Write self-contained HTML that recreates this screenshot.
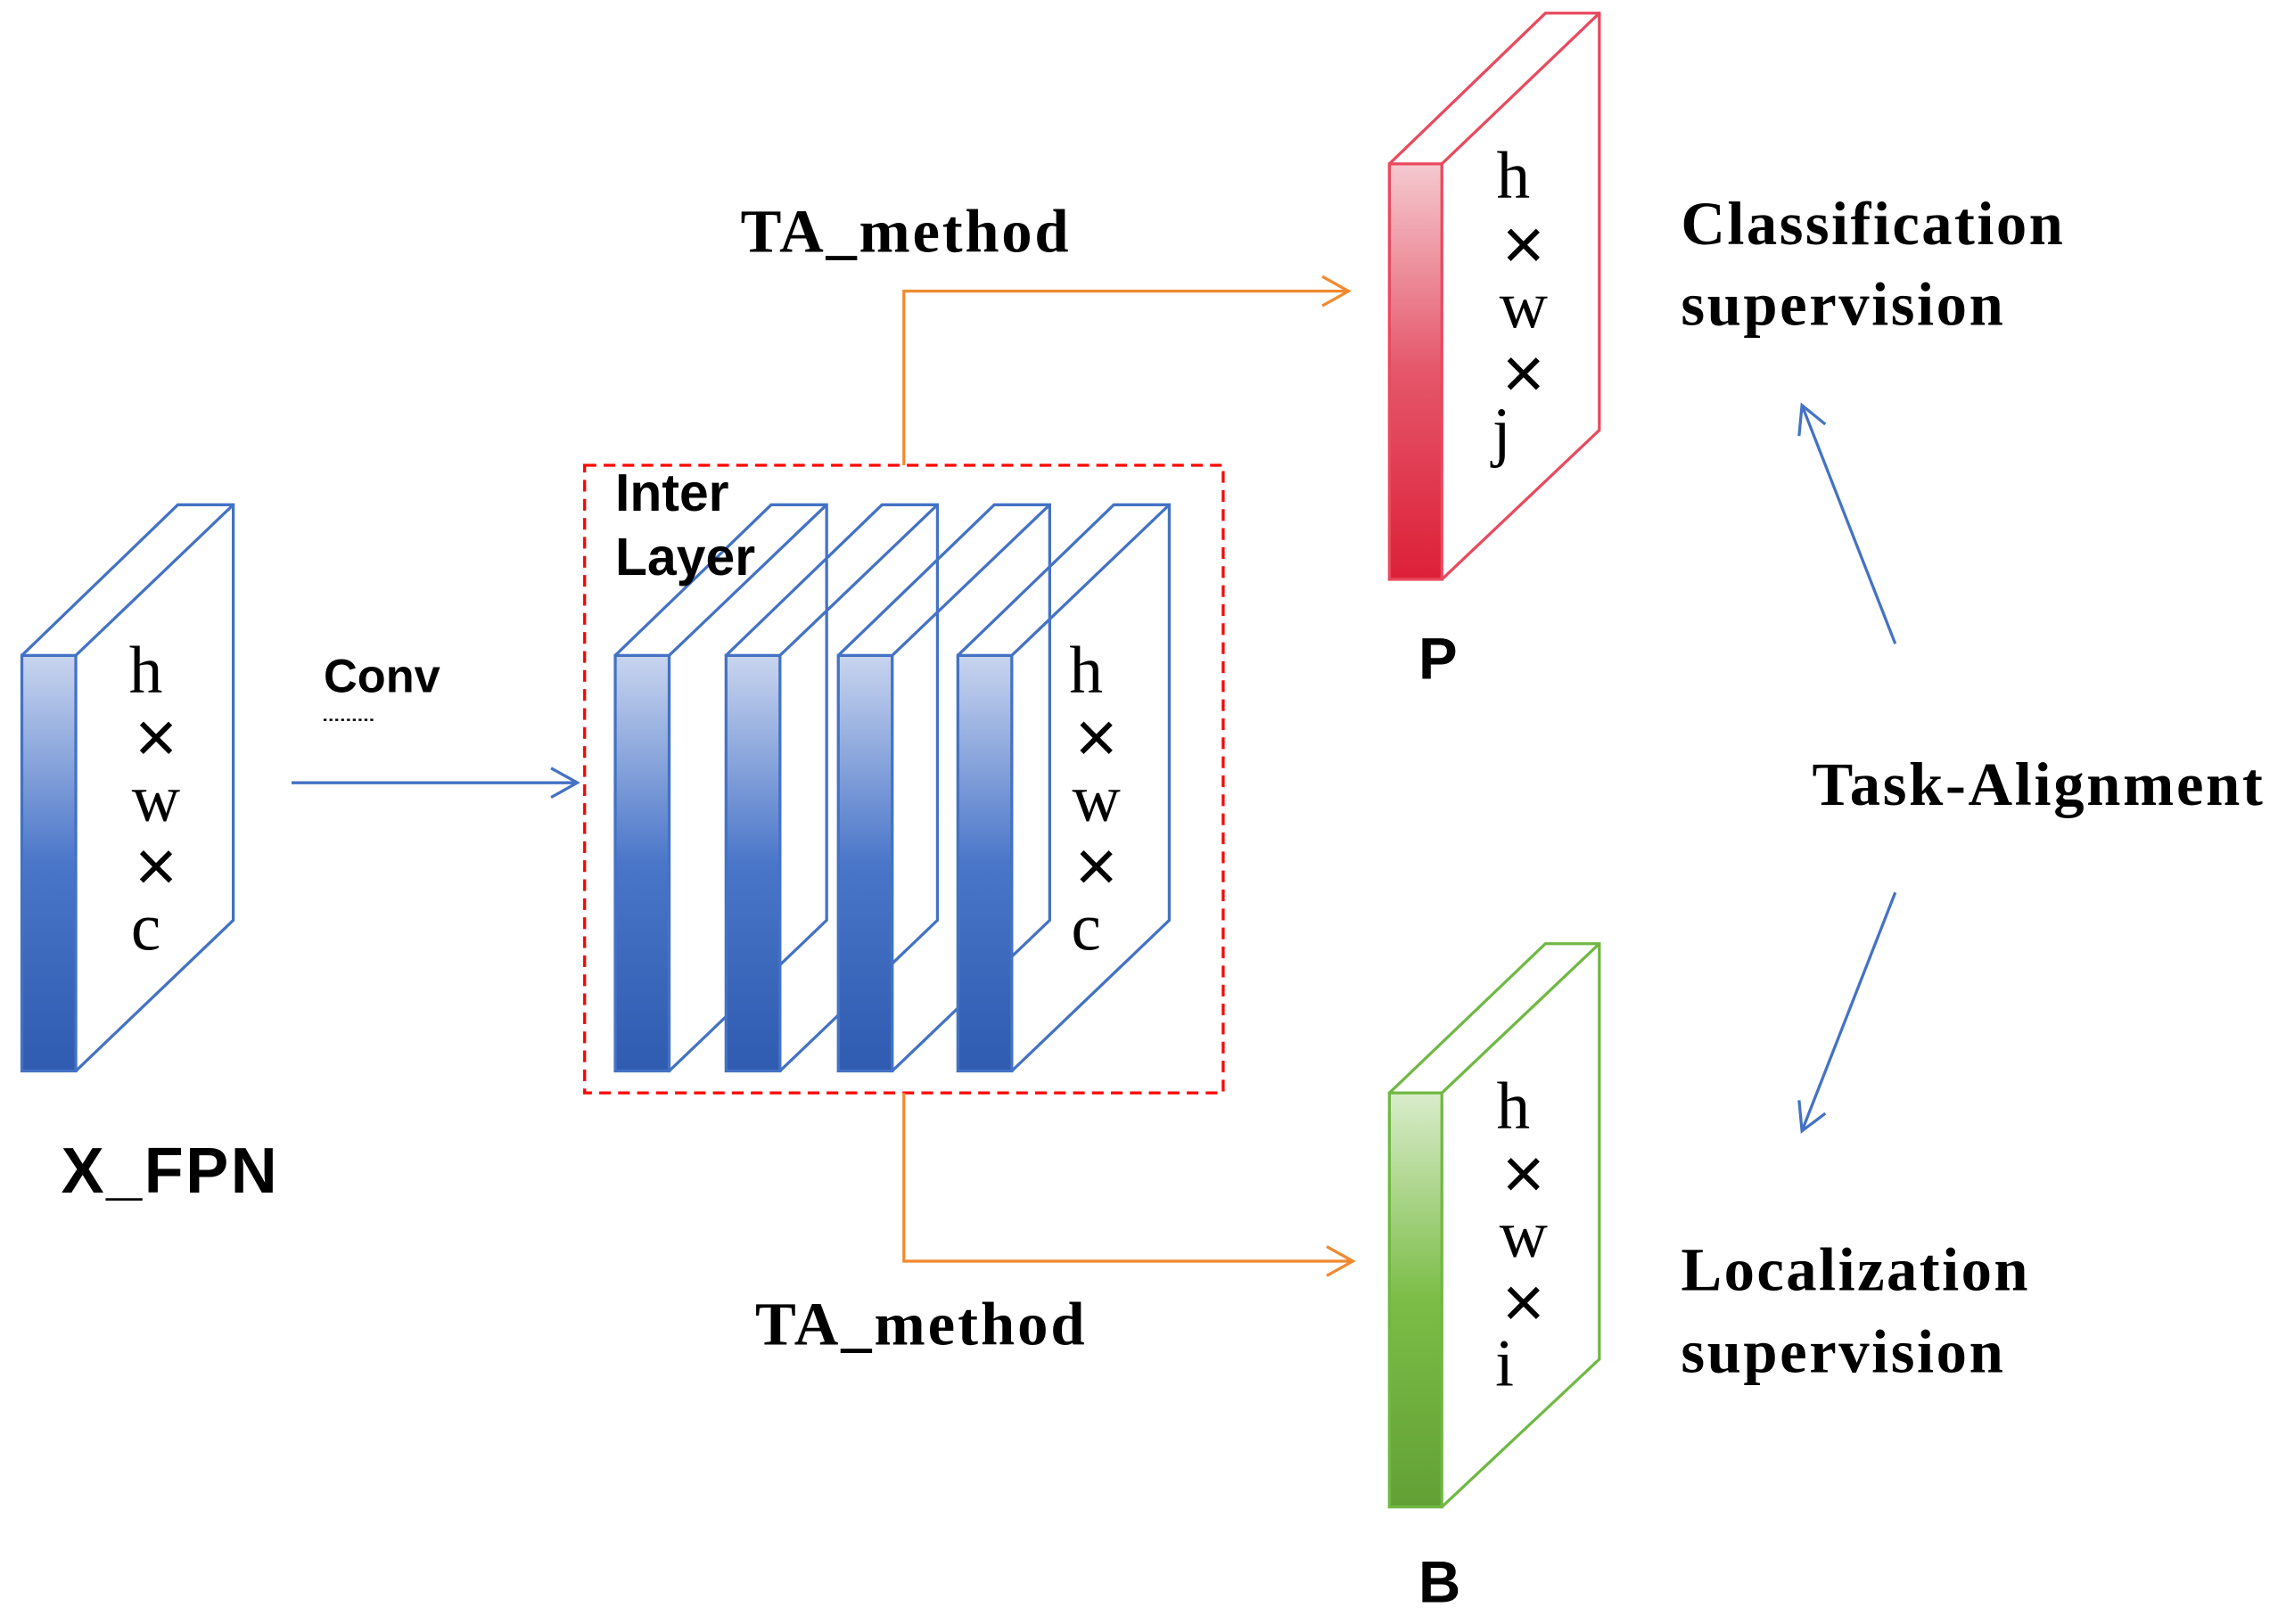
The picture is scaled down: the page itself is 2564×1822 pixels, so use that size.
<!DOCTYPE html>
<html><head><meta charset="utf-8"><style>html,body{margin:0;padding:0;background:#fff}svg{display:block}</style></head>
<body>
<svg width="2564" height="1822" viewBox="0 0 1568 1110" preserveAspectRatio="none" xmlns="http://www.w3.org/2000/svg">
<defs>
<linearGradient id="gb" x1="0" y1="0" x2="0" y2="1"><stop offset="0" stop-color="#c9d5ef"/><stop offset="0.5" stop-color="#4a76c9"/><stop offset="1" stop-color="#2f5bb0"/></linearGradient>
<linearGradient id="gr" x1="0" y1="0" x2="0" y2="1"><stop offset="0" stop-color="#f5c9cf"/><stop offset="0.5" stop-color="#e5566a"/><stop offset="1" stop-color="#dc2038"/></linearGradient>
<linearGradient id="gg" x1="0" y1="0" x2="0" y2="1"><stop offset="0" stop-color="#d9eccb"/><stop offset="0.5" stop-color="#7bbd46"/><stop offset="1" stop-color="#62a035"/></linearGradient>
</defs>
<g fill="none" stroke-width="2">
<path d="M15,448 L122,345 L160,345 L160,629 L52,732 M52,448 L160,345" stroke="#4472c4"/>
<rect x="15" y="448" width="37" height="284" fill="url(#gb)" stroke="#4472c4"/>
<path d="M422,448 L529,345 L567,345 L567,629 L459,732 M459,448 L567,345" stroke="#4472c4"/>
<rect x="422" y="448" width="37" height="284" fill="url(#gb)" stroke="#4472c4"/>
<path d="M498,448 L605,345 L643,345 L643,629 L535,732 M535,448 L643,345" stroke="#4472c4"/>
<rect x="498" y="448" width="37" height="284" fill="url(#gb)" stroke="#4472c4"/>
<path d="M575,448 L682,345 L720,345 L720,629 L612,732 M612,448 L720,345" stroke="#4472c4"/>
<rect x="575" y="448" width="37" height="284" fill="url(#gb)" stroke="#4472c4"/>
<path d="M657,448 L764,345 L802,345 L802,629 L694,732 M694,448 L802,345" stroke="#4472c4"/>
<rect x="657" y="448" width="37" height="284" fill="url(#gb)" stroke="#4472c4"/>
<rect x="401" y="318" width="438" height="429" stroke="#ff0000" stroke-dasharray="8,5"/>
<path d="M953,112 L1060,9 L1097,9 L1097,294 L989,396 M989,112 L1097,9" stroke="#e84a5f"/>
<rect x="953" y="112" width="36" height="284" fill="url(#gr)" stroke="#e84a5f"/>
<path d="M953,747 L1060,645 L1097,645 L1097,929 L989,1030 M989,747 L1097,645" stroke="#70b844"/>
<rect x="953" y="747" width="36" height="283" fill="url(#gg)" stroke="#70b844"/>
<path d="M200,535 L396,535 M378,525 L396,535 L378,545" stroke="#4472c4"/>
<path d="M620,318 L620,199 L925,199 M907,189 L925,199 L907,209" stroke="#f08a30"/>
<path d="M620,747 L620,862 L928,862 M910,852 L928,862 L910,872" stroke="#f08a30"/>
<path d="M1300,440 L1236,277 M1234,298 L1236,277 L1252,290" stroke="#4472c4"/>
<path d="M1300,610 L1236,773 M1234,752 L1236,773 L1252,761" stroke="#4472c4"/>
<path d="M222,492 L257,492" stroke="#000" stroke-dasharray="2,2" stroke-width="1.5"/>
</g>
<g font-family="Liberation Serif, serif" font-size="46" text-anchor="middle" fill="#000">
<text x="100" y="473">h</text><text x="107" y="561">w</text><text x="100" y="649">c</text>
<text x="745" y="473">h</text><text x="752" y="561">w</text><text x="745" y="649">c</text>
<text x="1038" y="135">h</text><text x="1045" y="224">w</text><text x="1030" y="310">j</text>
<text x="1038" y="771">h</text><text x="1045" y="859">w</text><text x="1032" y="947">i</text>
</g>
<g font-family="Liberation Sans, sans-serif" font-size="50" text-anchor="middle" fill="#000">
<text x="107" y="521">×</text><text x="107" y="609">×</text>
<text x="752" y="521">×</text><text x="752" y="609">×</text>
<text x="1045" y="184">×</text><text x="1045" y="272">×</text>
<text x="1045" y="819">×</text><text x="1045" y="907">×</text>
</g>
<g font-family="Liberation Serif, serif" font-weight="bold" font-size="42" fill="#000">
<text x="508" y="172" textLength="225">TA_method</text>
<text x="518" y="919" textLength="226">TA_method</text>
<text x="1153" y="167" textLength="262">Classification</text>
<text x="1153" y="222" textLength="221">supervision</text>
<text x="1153" y="882" textLength="238">Localization</text>
<text x="1153" y="938" textLength="221">supervision</text>
<text x="1243" y="550" textLength="309">Task-Alignment</text>
</g>
<g font-family="Liberation Sans, sans-serif" font-weight="bold" fill="#000">
<text x="222" y="473" font-size="32">Conv</text>
<text x="422" y="349" font-size="36">Inter</text>
<text x="422" y="393" font-size="36">Layer</text>
<text x="42" y="815" font-size="44" textLength="148">X_FPN</text>
<text x="973" y="464" font-size="40">P</text>
<text x="973" y="1095" font-size="40">B</text>
</g>
</svg>
</body></html>
